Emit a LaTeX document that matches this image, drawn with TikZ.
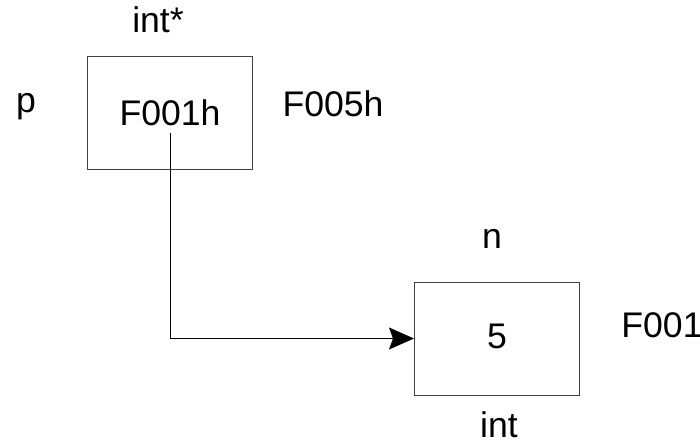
\documentclass[tikz,border=0pt]{standalone}
\usepackage{fontspec}
\setmainfont{Liberation Sans}
\usetikzlibrary{arrows.meta}

\begin{document}
\begin{tikzpicture}[x=0.5pt,y=-0.5pt,
  font=\fontsize{17.8}{20}\selectfont,
  cell/.style={draw=black!75, line width=0.5pt, minimum width=82.5pt, minimum height=56.5pt, inner sep=0pt},
  lbl/.style={anchor=base, inner sep=3pt}]
\useasboundingbox (0,0) rectangle (700,443);
% the two memory cells
\node[cell] (pbox) at (169.5,113.5) {};
\node[cell] (nbox) at (497,338.5) {};
% pointer p
\node[lbl] (ptype) at (158,33) {int*};
\node[lbl] (pname) at (26,113) {p};
\node[lbl] (pval) at (170,126) {F001h};
\node[lbl] (paddr) at (333,117) {F005h};
% variable n
\node[lbl] (nname) at (492,248) {n};
\node[lbl] (nval) at (497,348) {5};
\node[lbl, anchor=base west, inner sep=0pt] (naddr) at (621,337) {F001};
\node[lbl, inner sep=0pt] (ntype) at (499,437) {int};
% p points to n
\draw[line width=0.5pt, -{Stealth[length=12.5pt, width=11pt, inset=2pt]}] (pval.south) |- (nbox.west);
\end{tikzpicture}
\end{document}
